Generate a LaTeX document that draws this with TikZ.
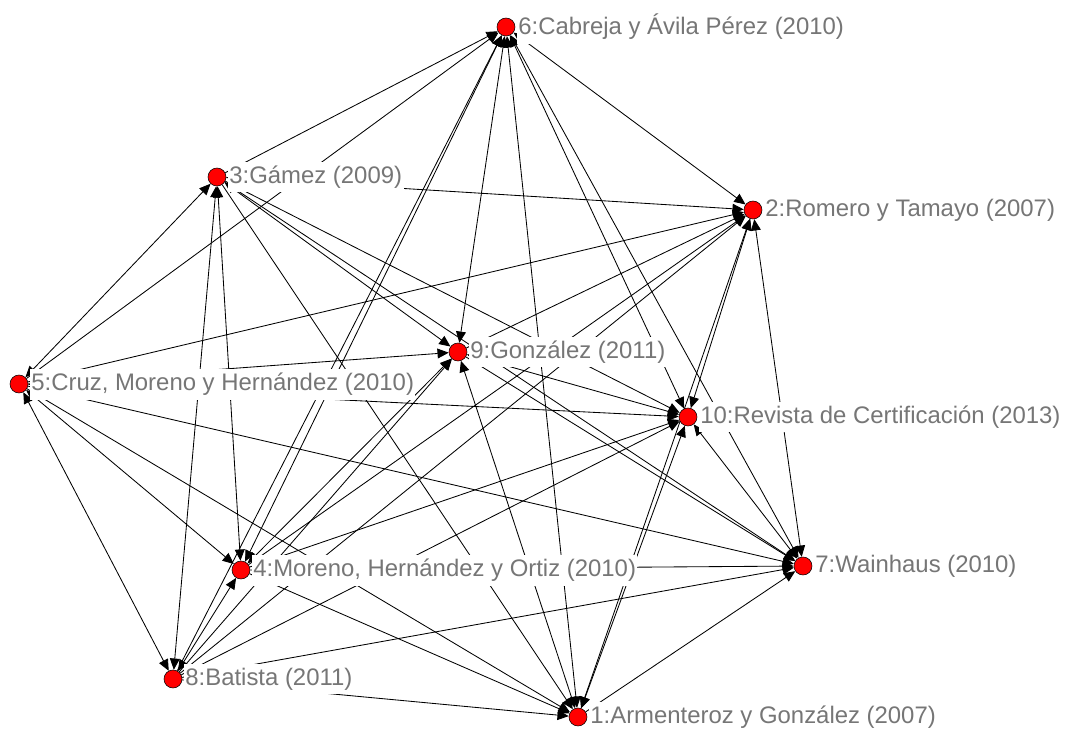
\documentclass[tikz,border=0pt]{standalone}
\usepackage{fontspec}
\setmainfont{Liberation Sans}
\usetikzlibrary{arrows.meta,positioning,backgrounds}
\definecolor{labelgray}{RGB}{118,118,118}

\begin{document}
\begin{tikzpicture}[x=0.025cm,y=-0.025cm,
    actor/.style={circle,draw=black,line width=0.4pt,fill=red,minimum size=0.45cm,inner sep=0pt},
    lbl/.style={fill=white,text=labelgray,inner xsep=1pt,inner ysep=3pt,font=\fontsize{17}{19}\selectfont},
    link/.style={line width=0.6pt,-{Triangle[length=8pt,width=7pt]}},
    twoway/.style={line width=0.6pt,{Triangle[length=8pt,width=7pt]}-{Triangle[length=8pt,width=7pt]}}]
    \useasboundingbox (0,0) rectangle (1068,729);

    % actors
    \node[actor] (n1) at (578,717) {};
    \node[actor] (n2) at (753,210) {};
    \node[actor] (n3) at (217,177) {};
    \node[actor] (n4) at (241,570) {};
    \node[actor] (n5) at (19,384) {};
    \node[actor] (n6) at (506,27) {};
    \node[actor] (n7) at (803,566) {};
    \node[actor] (n8) at (173,679) {};
    \node[actor] (n9) at (458,352) {};
    \node[actor] (n10) at (688,417) {};

    % labels
    \node[lbl,right=1pt of n1] (l1) {1:Armenteroz y González (2007)};
    \node[lbl,right=1pt of n2] (l2) {2:Romero y Tamayo (2007)};
    \node[lbl,right=1pt of n3] (l3) {3:Gámez (2009)};
    \node[lbl,right=1pt of n4] (l4) {4:Moreno, Hernández y Ortiz (2010)};
    \node[lbl,right=1pt of n5] (l5) {5:Cruz, Moreno y Hernández (2010)};
    \node[lbl,right=1pt of n6] (l6) {6:Cabreja y Ávila Pérez (2010)};
    \node[lbl,right=1pt of n7] (l7) {7:Wainhaus (2010)};
    \node[lbl,right=1pt of n8] (l8) {8:Batista (2011)};
    \node[lbl,right=1pt of n9] (l9) {9:González (2011)};
    \node[lbl,right=1pt of n10] (l10) {10:Revista de Certificación (2013)};

    % ties
    \begin{scope}[on background layer]
        \foreach \a/\b in {3/1,4/1,5/1,1/7,8/1,3/2,4/2,5/2,8/2,9/2,3/6,3/7,
                           3/10,4/7,4/10,5/6,5/7,5/9,5/10,8/6,8/7,9/7,8/9,8/10}
            \draw[link] (n\a) -- (n\b);
        \foreach \a/\b in {1/2,1/6,1/9,1/10,2/6,2/7,2/10,3/4,3/5,3/8,3/9,
                           4/5,4/6,4/8,4/9,5/8,6/7,6/9,6/10,7/10,9/10}
            \draw[twoway] (n\a) -- (n\b);
    \end{scope}
\end{tikzpicture}
\end{document}
